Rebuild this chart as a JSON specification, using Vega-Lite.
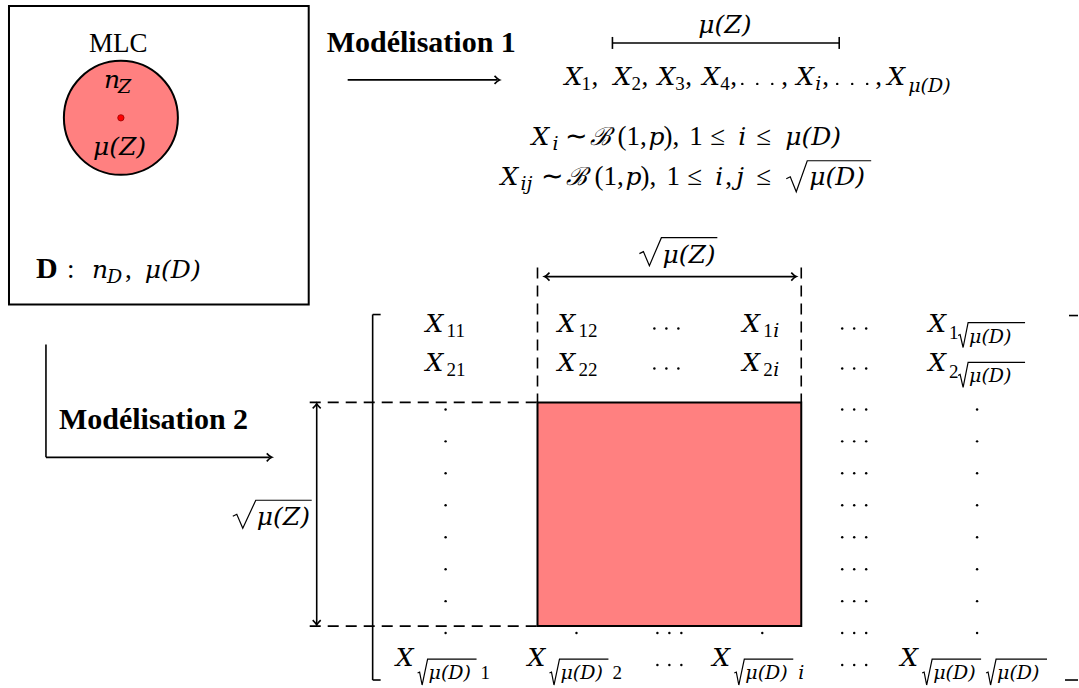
{
  "$schema": "https://vega.github.io/schema/vega-lite/v6.json",
  "width": 1079,
  "height": 688,
  "padding": 0,
  "autosize": {"type": "fit", "contains": "padding"},
  "background": "white",
  "config": {"view": {"stroke": null}},
  "datasets": {
    "box": [{"x": 9, "y": 6, "x2": 309, "y2": 305}],
    "pink": [{"x": 538, "y": 403, "x2": 802, "y2": 627}],
    "circle": [{"x": 121, "y": 118}],
    "center": [{"x": 121, "y": 118}],
    "solid": [
      {"x": 348, "y": 80, "x2": 498, "y2": 80},
      {"x": 613, "y": 43, "x2": 840, "y2": 43},
      {"x": 613, "y": 37, "x2": 613, "y2": 49},
      {"x": 840, "y": 37, "x2": 840, "y2": 49},
      {"x": 546, "y": 277, "x2": 796, "y2": 277},
      {"x": 317, "y": 405, "x2": 317, "y2": 625},
      {"x": 46, "y": 345, "x2": 46, "y2": 458},
      {"x": 46, "y": 458, "x2": 270, "y2": 458},
      {"x": 373, "y": 315, "x2": 373, "y2": 681},
      {"x": 373, "y": 315, "x2": 381, "y2": 315},
      {"x": 373, "y": 681, "x2": 381, "y2": 681},
      {"x": 1070, "y": 316, "x2": 1079, "y2": 316},
      {"x": 1066, "y": 681, "x2": 1079, "y2": 681}
    ],
    "dashed": [
      {"x": 538, "y": 268, "x2": 538, "y2": 403},
      {"x": 802, "y": 268, "x2": 802, "y2": 403},
      {"x": 310, "y": 403, "x2": 538, "y2": 403},
      {"x": 310, "y": 627, "x2": 538, "y2": 627}
    ],
    "radicals": [
      {"r": "a", "o": 1, "x": 787, "y": 179}, {"r": "a", "o": 2, "x": 791, "y": 177}, {"r": "a", "o": 3, "x": 797, "y": 192}, {"r": "a", "o": 4, "x": 808, "y": 161}, {"r": "a", "o": 5, "x": 872, "y": 161},
      {"r": "b", "o": 1, "x": 959, "y": 336}, {"r": "b", "o": 2, "x": 961, "y": 335}, {"r": "b", "o": 3, "x": 964, "y": 348}, {"r": "b", "o": 4, "x": 969, "y": 323}, {"r": "b", "o": 5, "x": 1026, "y": 323},
      {"r": "c", "o": 1, "x": 959, "y": 376}, {"r": "c", "o": 2, "x": 961, "y": 375}, {"r": "c", "o": 3, "x": 964, "y": 388}, {"r": "c", "o": 4, "x": 969, "y": 363}, {"r": "c", "o": 5, "x": 1026, "y": 363},
      {"r": "d", "o": 1, "x": 418, "y": 674}, {"r": "d", "o": 2, "x": 420, "y": 673}, {"r": "d", "o": 3, "x": 422.5, "y": 686}, {"r": "d", "o": 4, "x": 428, "y": 660}, {"r": "d", "o": 5, "x": 477, "y": 660},
      {"r": "e", "o": 1, "x": 550, "y": 674}, {"r": "e", "o": 2, "x": 552, "y": 673}, {"r": "e", "o": 3, "x": 554.5, "y": 686}, {"r": "e", "o": 4, "x": 560, "y": 660}, {"r": "e", "o": 5, "x": 609, "y": 660},
      {"r": "f", "o": 1, "x": 735, "y": 674}, {"r": "f", "o": 2, "x": 737, "y": 673}, {"r": "f", "o": 3, "x": 739.5, "y": 686}, {"r": "f", "o": 4, "x": 745, "y": 660}, {"r": "f", "o": 5, "x": 794, "y": 660},
      {"r": "g", "o": 1, "x": 923, "y": 674}, {"r": "g", "o": 2, "x": 925, "y": 673}, {"r": "g", "o": 3, "x": 927.5, "y": 686}, {"r": "g", "o": 4, "x": 933, "y": 660}, {"r": "g", "o": 5, "x": 982, "y": 660},
      {"r": "h", "o": 1, "x": 987, "y": 674}, {"r": "h", "o": 2, "x": 989, "y": 673}, {"r": "h", "o": 3, "x": 991.5, "y": 686}, {"r": "h", "o": 4, "x": 997, "y": 660}, {"r": "h", "o": 5, "x": 1048, "y": 660},
      {"r": "i", "o": 1, "x": 640, "y": 254}, {"r": "i", "o": 2, "x": 644, "y": 252}, {"r": "i", "o": 3, "x": 650, "y": 266}, {"r": "i", "o": 4, "x": 662, "y": 238}, {"r": "i", "o": 5, "x": 718, "y": 238},
      {"r": "j", "o": 1, "x": 233, "y": 517}, {"r": "j", "o": 2, "x": 237, "y": 515}, {"r": "j", "o": 3, "x": 243, "y": 529}, {"r": "j", "o": 4, "x": 256, "y": 501}, {"r": "j", "o": 5, "x": 312, "y": 501}
    ],
    "heads": [
      {"x": 500, "y": 80, "dir": "right"},
      {"x": 797, "y": 277, "dir": "right"},
      {"x": 272, "y": 458, "dir": "right"},
      {"x": 545, "y": 277, "dir": "left"},
      {"x": 317, "y": 404, "dir": "up"},
      {"x": 317, "y": 626, "dir": "down"}
    ],
    "dots": [
      {"x": 446, "y": 410}, {"x": 446, "y": 442}, {"x": 446, "y": 474}, {"x": 446, "y": 506},
      {"x": 446, "y": 538}, {"x": 446, "y": 570}, {"x": 446, "y": 602}, {"x": 446, "y": 634},
      {"x": 978, "y": 410}, {"x": 978, "y": 442}, {"x": 978, "y": 474}, {"x": 978, "y": 506},
      {"x": 978, "y": 538}, {"x": 978, "y": 570}, {"x": 978, "y": 602}, {"x": 978, "y": 634},
      {"x": 843, "y": 410}, {"x": 855, "y": 410}, {"x": 867, "y": 410},
      {"x": 843, "y": 442}, {"x": 855, "y": 442}, {"x": 867, "y": 442},
      {"x": 843, "y": 474}, {"x": 855, "y": 474}, {"x": 867, "y": 474},
      {"x": 843, "y": 506}, {"x": 855, "y": 506}, {"x": 867, "y": 506},
      {"x": 843, "y": 538}, {"x": 855, "y": 538}, {"x": 867, "y": 538},
      {"x": 843, "y": 570}, {"x": 855, "y": 570}, {"x": 867, "y": 570},
      {"x": 843, "y": 602}, {"x": 855, "y": 602}, {"x": 867, "y": 602},
      {"x": 843, "y": 634}, {"x": 855, "y": 634}, {"x": 867, "y": 634},
      {"x": 843, "y": 329}, {"x": 855, "y": 329}, {"x": 867, "y": 329},
      {"x": 843, "y": 369}, {"x": 855, "y": 369}, {"x": 867, "y": 369},
      {"x": 843, "y": 666}, {"x": 855, "y": 666}, {"x": 867, "y": 666},
      {"x": 655, "y": 329}, {"x": 667, "y": 329}, {"x": 679, "y": 329},
      {"x": 655, "y": 369}, {"x": 667, "y": 369}, {"x": 679, "y": 369},
      {"x": 658, "y": 634}, {"x": 670, "y": 634}, {"x": 682, "y": 634},
      {"x": 658, "y": 666}, {"x": 670, "y": 666}, {"x": 682, "y": 666},
      {"x": 577, "y": 634}, {"x": 763, "y": 634},
      {"x": 743, "y": 84}, {"x": 758, "y": 84}, {"x": 773, "y": 84},
      {"x": 838, "y": 84}, {"x": 853, "y": 84}, {"x": 868, "y": 84}
    ],
    "rm": [
      {"x": 89, "y": 52, "t": "MLC"},
      {"x": 67, "y": 278, "t": ":"},
      {"x": 125, "y": 278, "t": ","},
      {"x": 592, "y": 85, "t": ","},
      {"x": 642, "y": 85, "t": ","},
      {"x": 686, "y": 85, "t": ","},
      {"x": 731, "y": 85, "t": ","},
      {"x": 782, "y": 85, "t": ","},
      {"x": 823, "y": 85, "t": ","},
      {"x": 876, "y": 85, "t": ","},
      {"x": 566, "y": 145, "t": "∼"},
      {"x": 618, "y": 145, "t": "(1,"},
      {"x": 664, "y": 145, "t": "),"},
      {"x": 690, "y": 145, "t": "1"},
      {"x": 711, "y": 145, "t": "≤"},
      {"x": 757, "y": 145, "t": "≤"},
      {"x": 542, "y": 185, "t": "∼"},
      {"x": 595, "y": 185, "t": "(1,"},
      {"x": 641, "y": 185, "t": "),"},
      {"x": 667, "y": 185, "t": "1"},
      {"x": 688, "y": 185, "t": "≤"},
      {"x": 726, "y": 185, "t": ","},
      {"x": 757, "y": 185, "t": "≤"}
    ],
    "bf": [
      {"x": 327, "y": 52, "t": "Modélisation 1"},
      {"x": 59, "y": 430, "t": "Modélisation 2"},
      {"x": 36, "y": 278, "t": "D"}
    ],
    "it": [
      {"x": 104, "y": 88, "t": "n"},
      {"x": 93, "y": 155, "t": "μ(Z)"},
      {"x": 92, "y": 278, "t": "n"},
      {"x": 145, "y": 278, "t": "μ(D)"},
      {"x": 699, "y": 33, "t": "μ(Z)"},
      {"x": 565, "y": 85, "t": "X"},
      {"x": 614, "y": 85, "t": "X"},
      {"x": 658, "y": 85, "t": "X"},
      {"x": 703, "y": 85, "t": "X"},
      {"x": 797, "y": 85, "t": "X"},
      {"x": 888, "y": 85, "t": "X"},
      {"x": 532, "y": 145, "t": "X"},
      {"x": 591, "y": 145, "t": "ℬ"},
      {"x": 649, "y": 145, "t": "p"},
      {"x": 739, "y": 145, "t": "i"},
      {"x": 786, "y": 145, "t": "μ(D)"},
      {"x": 501, "y": 185, "t": "X"},
      {"x": 567, "y": 185, "t": "ℬ"},
      {"x": 626, "y": 185, "t": "p"},
      {"x": 716, "y": 185, "t": "i"},
      {"x": 737, "y": 185, "t": "j"},
      {"x": 810, "y": 185, "t": "μ(D)"},
      {"x": 663, "y": 263, "t": "μ(Z)"},
      {"x": 257, "y": 526, "t": "μ(Z)"},
      {"x": 426, "y": 332, "t": "X"},
      {"x": 558, "y": 332, "t": "X"},
      {"x": 743, "y": 332, "t": "X"},
      {"x": 929, "y": 332, "t": "X"},
      {"x": 426, "y": 372, "t": "X"},
      {"x": 558, "y": 372, "t": "X"},
      {"x": 743, "y": 372, "t": "X"},
      {"x": 929, "y": 372, "t": "X"},
      {"x": 396, "y": 667, "t": "X"},
      {"x": 528, "y": 667, "t": "X"},
      {"x": 713, "y": 667, "t": "X"},
      {"x": 901, "y": 667, "t": "X"}
    ],
    "itsub": [
      {"x": 118, "y": 93, "t": "Z"},
      {"x": 107, "y": 283, "t": "D"},
      {"x": 816, "y": 90, "t": "i"},
      {"x": 909, "y": 92, "t": "μ(D)"},
      {"x": 553, "y": 150, "t": "i"},
      {"x": 521, "y": 190, "t": "ij"},
      {"x": 774, "y": 337, "t": "i"},
      {"x": 774, "y": 377, "t": "i"},
      {"x": 970, "y": 343, "t": "μ(D)"},
      {"x": 970, "y": 383, "t": "μ(D)"},
      {"x": 429, "y": 680, "t": "μ(D)"},
      {"x": 561, "y": 680, "t": "μ(D)"},
      {"x": 746, "y": 680, "t": "μ(D)"},
      {"x": 799, "y": 680, "t": "i"},
      {"x": 934, "y": 680, "t": "μ(D)"},
      {"x": 998, "y": 680, "t": "μ(D)"}
    ],
    "rmsub": [
      {"x": 582, "y": 90, "t": "1"},
      {"x": 632, "y": 90, "t": "2"},
      {"x": 676, "y": 90, "t": "3"},
      {"x": 721, "y": 90, "t": "4"},
      {"x": 447, "y": 337, "t": "11"},
      {"x": 579, "y": 337, "t": "12"},
      {"x": 764, "y": 337, "t": "1"},
      {"x": 950, "y": 339, "t": "1"},
      {"x": 447, "y": 377, "t": "21"},
      {"x": 579, "y": 377, "t": "22"},
      {"x": 764, "y": 377, "t": "2"},
      {"x": 950, "y": 379, "t": "2"},
      {"x": 481, "y": 680, "t": "1"},
      {"x": 613, "y": 680, "t": "2"}
    ]
  },
  "encoding": {
    "x": {"field": "x", "type": "quantitative", "scale": {"domain": [0, 1079], "nice": false, "zero": false}, "axis": null},
    "y": {"field": "y", "type": "quantitative", "scale": {"domain": [0, 688], "nice": false, "zero": false, "reverse": true}, "axis": null}
  },
  "layer": [
    {"data": {"name": "box"}, "mark": {"type": "rect", "fill": null, "fillOpacity": 0, "stroke": "#000000", "strokeWidth": 2}, "encoding": {"x2": {"field": "x2"}, "y2": {"field": "y2"}}},
    {"data": {"name": "pink"}, "mark": {"type": "rect", "fill": "#FF8080", "stroke": "#000000", "strokeWidth": 2}, "encoding": {"x2": {"field": "x2"}, "y2": {"field": "y2"}}},
    {"data": {"name": "circle"}, "mark": {"type": "point", "shape": "circle", "filled": true, "fill": "#FF8080", "fillOpacity": 1, "stroke": "#000000", "strokeWidth": 2, "size": 12996, "opacity": 1}},
    {"data": {"name": "center"}, "mark": {"type": "point", "shape": "circle", "filled": true, "fill": "#FF0000", "fillOpacity": 1, "stroke": "#990000", "strokeWidth": 0.8, "size": 40, "opacity": 1}},
    {"data": {"name": "solid"}, "mark": {"type": "rule", "stroke": "#000000", "strokeWidth": 1.6}, "encoding": {"x2": {"field": "x2"}, "y2": {"field": "y2"}}},
    {"data": {"name": "dashed"}, "mark": {"type": "rule", "stroke": "#000000", "strokeWidth": 1.6, "strokeDash": [11, 7]}, "encoding": {"x2": {"field": "x2"}, "y2": {"field": "y2"}}},
    {"data": {"name": "radicals"}, "mark": {"type": "line", "stroke": "#000000", "strokeWidth": 1.2, "strokeJoin": "miter"}, "encoding": {"detail": {"field": "r", "type": "nominal"}, "order": {"field": "o", "type": "quantitative"}}},
    {"data": {"name": "heads"}, "mark": {"type": "point", "filled": false, "stroke": "#000000", "strokeWidth": 1.6, "size": 100, "opacity": 1},
     "encoding": {"shape": {"field": "dir", "type": "nominal", "legend": null,
       "scale": {"domain": ["right", "left", "up", "down"],
         "range": ["M -1 -0.8 Q -0.4 -0.15 0 0 Q -0.4 0.15 -1 0.8", "M 1 -0.8 Q 0.4 -0.15 0 0 Q 0.4 0.15 1 0.8", "M -0.8 1 Q -0.15 0.4 0 0 Q 0.15 0.4 0.8 1", "M -0.8 -1 Q -0.15 -0.4 0 0 Q 0.15 -0.4 0.8 -1"]}}}},
    {"data": {"name": "dots"}, "mark": {"type": "point", "shape": "circle", "filled": true, "fill": "#000000", "size": 6, "opacity": 1}},
    {"data": {"name": "rm"}, "mark": {"type": "text", "align": "left", "baseline": "alphabetic", "font": "Liberation Serif", "fontSize": 27, "color": "#000000"}, "encoding": {"text": {"field": "t"}}},
    {"data": {"name": "bf"}, "mark": {"type": "text", "align": "left", "baseline": "alphabetic", "font": "Liberation Serif", "fontSize": 30, "fontWeight": "bold", "color": "#000000"}, "encoding": {"text": {"field": "t"}}},
    {"data": {"name": "it"}, "mark": {"type": "text", "align": "left", "baseline": "alphabetic", "font": "DejaVu Serif", "fontSize": 25, "fontStyle": "italic", "color": "#000000"}, "encoding": {"text": {"field": "t"}}},
    {"data": {"name": "itsub"}, "mark": {"type": "text", "align": "left", "baseline": "alphabetic", "font": "DejaVu Serif", "fontSize": 19, "fontStyle": "italic", "color": "#000000"}, "encoding": {"text": {"field": "t"}}},
    {"data": {"name": "rmsub"}, "mark": {"type": "text", "align": "left", "baseline": "alphabetic", "font": "Liberation Serif", "fontSize": 19, "color": "#000000"}, "encoding": {"text": {"field": "t"}}}
  ]
}
